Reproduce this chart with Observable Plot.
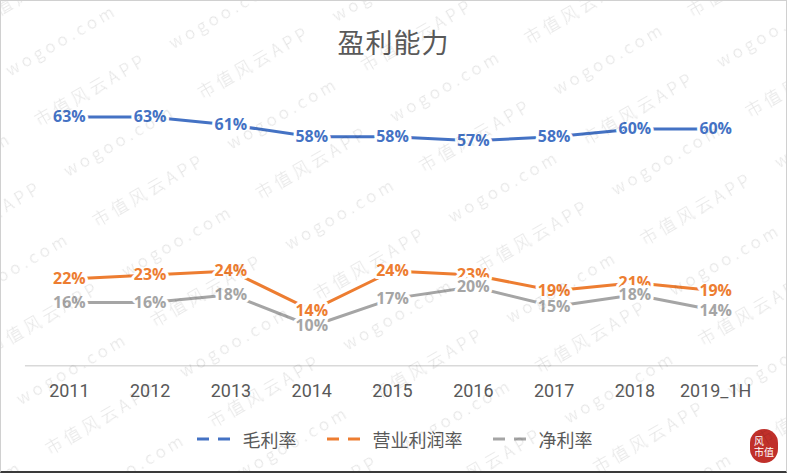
<!DOCTYPE html>
<html>
<head>
<meta charset="utf-8">
<script src="https://cdn.jsdelivr.net/npm/d3@7"></script>
<script src="https://cdn.jsdelivr.net/npm/@observablehq/plot@0.6"></script>
<style>
  body { margin: 0; background: #fff; }
  #card {
    position: relative; width: 787px; height: 473px; box-sizing: border-box;
    border: 1px solid #d0d0d0; border-bottom: 2px solid #3a3a3a; overflow: hidden;
    background: #fff; font-family: "Noto Sans CJK SC", "Noto Sans", sans-serif;
  }
  #title {
    position: absolute; top: 21px; left: 0; width: 100%; text-align: center;
    font-size: 27px; color: #595959; letter-spacing: 1px;
  }
  #chart { position: absolute; top: 60px; left: 0; }
  #legend {
    position: absolute; top: 424px; left: 0; width: 100%;
    display: flex; justify-content: center; gap: 28px;
    font-size: 18px; color: #595959; line-height: 28px;
  }
  #legend .item { display: flex; align-items: center; gap: 8px; }
  #wm { position: absolute; left: 0; top: 0; pointer-events: none; }
  #seal {
    position: absolute; right: 8px; bottom: 8px; width: 28px; height: 34px;
    border-radius: 14px; background: #c0302a; color: #fff;
    font-size: 10px; line-height: 11px; display: flex; align-items: center; justify-content: center;
    font-family: "Noto Sans CJK SC", serif;
  }
</style>
</head>
<body>
<div id="card">
  <div id="title">盈利能力</div>
  <div id="chart"></div>
  <div id="legend"></div>
  <div id="seal"><span>风<br>市值</span></div>
  <svg id="wm" width="787" height="473"></svg>
</div>
<script>
// Periods and the three margin series (percent)
const periods = ["2011", "2012", "2013", "2014", "2015", "2016", "2017", "2018", "2019_1H"];
const grossMargin     = [63, 63, 61, 58, 58, 57, 58, 60, 60];
const operatingMargin = [22, 23, 24, 14, 24, 23, 19, 21, 19];
const netMargin       = [16, 16, 18, 10, 17, 20, 15, 18, 14];

const seriesNames  = ["毛利率", "营业利润率", "净利率"];
const seriesColors = ["#4472C4", "#ED7D31", "#A5A5A5"];
const seriesValues = [grossMargin, operatingMargin, netMargin];

const rows = seriesNames.flatMap((name, i) =>
  periods.map((p, j) => ({series: name, period: p, value: seriesValues[i][j]}))
);

const color = {domain: seriesNames, range: seriesColors};

const chart = Plot.plot({
  width: 787,
  height: 350,
  marginLeft: 24,
  marginRight: 28,
  marginTop: 28,
  marginBottom: 45,
  style: {background: "transparent", overflow: "visible"},
  x: {type: "point", domain: periods, padding: 0.5, label: null},
  y: {domain: [0, 70], axis: null},
  color,
  marks: [
    Plot.ruleY([0], {stroke: "#d9d9d9", strokeWidth: 1.5}),
    Plot.axisX({
      tickSize: 0, tickPadding: 19, fontSize: 18, label: null,
      fill: "#595959", fontFamily: "Liberation Sans Narrow, Roboto, sans-serif"
    }),
    Plot.line(rows, {
      x: "period", y: "value", z: "series", stroke: "series",
      strokeWidth: 3, strokeLinejoin: "round", strokeLinecap: "round"
    }),
    Plot.text(rows, {
      x: "period", y: "value", text: d => `${d.value}%`, fill: "series",
      stroke: "white", strokeWidth: 6, strokeLinejoin: "round",
      fontSize: 16, fontWeight: "bold", fontFamily: "Open Sans, sans-serif"
    })
  ]
});
document.getElementById("chart").appendChild(chart);

// Legend with dashed swatches
const legend = document.getElementById("legend");
seriesNames.forEach((name, i) => {
  const item = document.createElement("div");
  item.className = "item";
  item.innerHTML =
    `<svg width="40" height="10"><line x1="2" y1="5" x2="38" y2="5" stroke="${seriesColors[i]}" stroke-width="3" stroke-dasharray="12 9"/></svg><span>${name}</span>`;
  legend.appendChild(item);
});

// Faint diagonal watermark tiling
const wm = d3.select("#wm");
const pat = wm.append("defs").append("pattern")
  .attr("id", "wmp").attr("patternUnits", "userSpaceOnUse")
  .attr("width", 310).attr("height", 116)
  .attr("patternTransform", "rotate(-30) translate(-30,40)");
const wmText = [
  {t: "wogoo.com", x: 0, y: 30},
  {t: "市值风云APP", x: 155, y: 30},
  {t: "市值风云APP", x: 0, y: 88},
  {t: "wogoo.com", x: 155, y: 88}
];
pat.selectAll("text").data(wmText).join("text")
  .attr("x", d => d.x).attr("y", d => d.y)
  .attr("font-size", 17).attr("letter-spacing", 4).attr("font-weight", 300)
  .attr("font-family", "Noto Sans CJK SC, sans-serif")
  .attr("fill", "#000").attr("fill-opacity", 0.11)
  .text(d => d.t);
wm.append("rect").attr("width", 787).attr("height", 473).attr("fill", "url(#wmp)");
</script>
</body>
</html>
